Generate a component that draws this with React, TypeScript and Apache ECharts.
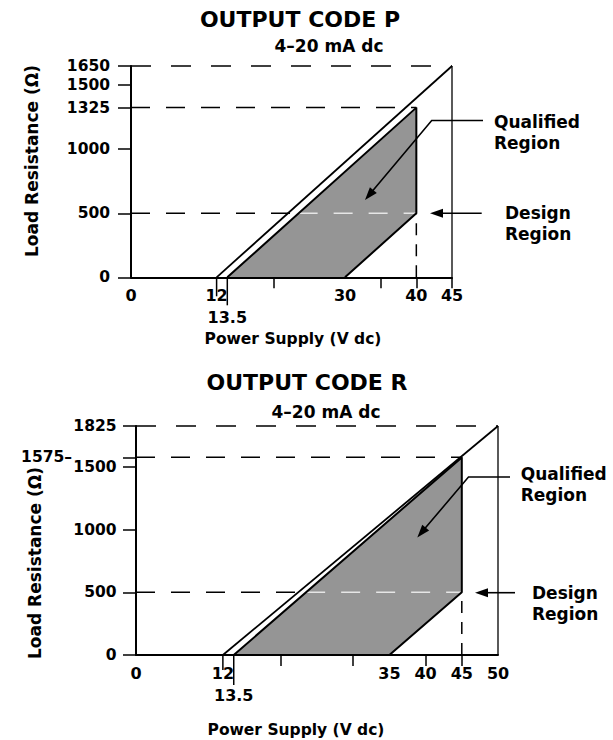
import React, { useEffect, useRef } from "react";
import * as echarts from "echarts";

const FONT = '"DejaVu Sans", "Liberation Sans", Arial, sans-serif';

// ---------- Output code P ----------
const pTitle = "OUTPUT CODE P";
const pSubtitle = "4–20 mA dc";
const pOuterLine = [[12, 0], [45, 1650]];
const pQualifiedRegion = [[13.5, 0], [40, 1325], [40, 500], [30, 0]];
const pYTickValues = [0, 500, 1000, 1325, 1500, 1650];
const pYLeadValues: number[] = [];
const pXLabelValues = [0, 12, 13.5, 30, 40, 45];
const pXTickValues = [20, 35, 40, 45];

// ---------- Output code R ----------
const rTitle = "OUTPUT CODE R";
const rSubtitle = "4–20 mA dc";
const rOuterLine = [[12, 0], [50, 1825]];
const rQualifiedRegion = [[13.5, 0], [45, 1575], [45, 500], [35, 0]];
const rYTickValues = [0, 500, 1000, 1500, 1575, 1825];
const rYLeadValues = [1575];
const rXLabelValues = [0, 12, 13.5, 35, 40, 45, 50];
const rXTickValues = [20, 30, 40, 45];

const yAxisName = "Load Resistance (Ω)";
const xAxisName = "Power Supply (V dc)";
const qualifiedLabel = "Qualified\nRegion";
const designLabel = "Design\nRegion";

const charts = [
  {
    title: pTitle, subtitle: pSubtitle, outer: pOuterLine, region: pQualifiedRegion,
    yTicks: pYTickValues, yLead: pYLeadValues, xLabels: pXLabelValues, xTicks: pXTickValues,
  },
  {
    title: rTitle, subtitle: rSubtitle, outer: rOuterLine, region: rQualifiedRegion,
    yTicks: rYTickValues, yLead: rYLeadValues, xLabels: rXLabelValues, xTicks: rXTickValues,
  },
];

const layouts = [
  {
    grid: { left: 131, top: 66, width: 321, height: 211.3 },
    labelMargin: 21, title: [300, 19], sub: [329, 46], yName: [32, 161], xName: [293, 339],
    qual: [494, 111.2], design: [505, 202.8],
    qualArrow: [[483, 120.5], [431.7, 120.5], [365, 200]],
    designArrow: [[481.7, 213.3], [430, 213.3]],
    longTicks: [19, 28],
  },
  {
    grid: { left: 136, top: 426, width: 362, height: 229 },
    labelMargin: 19.5, title: [307, 382], sub: [326, 412], yName: [35, 563], xName: [296, 730],
    qual: [520.7, 463.5], design: [532, 582.2],
    qualArrow: [[510, 477], [468.5, 477], [417.3, 537.5]],
    designArrow: [[515, 592.7], [475, 592.7]],
    longTicks: [15, 30],
  },
];

function txt(text: string, x: number, y: number, size: number, o: any = {}) {
  const align = o.align || "center";
  const va = o.va || "middle";
  return {
    type: "text", x, y, z: 20, silent: true, rotation: o.rot || 0,
    style: {
      text, fill: "#000", fontSize: size, fontWeight: "bold", fontFamily: FONT,
      align, verticalAlign: va, textAlign: align, textVerticalAlign: va,
      ...(o.lh ? { lineHeight: o.lh } : {}),
    },
  };
}

function arrow(pts: number[][], head = 13, half = 4.5) {
  const n = pts.length;
  const [tx, ty] = pts[n - 1];
  const [px, py] = pts[n - 2];
  const dx = tx - px, dy = ty - py;
  const L = Math.hypot(dx, dy);
  const ux = dx / L, uy = dy / L;
  const bx = tx - ux * head, by = ty - uy * head;
  const shaft = pts.slice(0, n - 1).concat([[bx + ux * 2, by + uy * 2]]);
  return [
    { type: "polyline", z: 20, silent: true, shape: { points: shaft }, style: { stroke: "#000", lineWidth: 1.6, fill: "none" } },
    {
      type: "polygon", z: 20, silent: true,
      shape: { points: [[tx, ty], [bx - uy * half, by + ux * half], [bx + uy * half, by - ux * half]] },
      style: { fill: "#000" },
    },
  ];
}

function buildOption() {
  const grid: any[] = [];
  const xAxis: any[] = [];
  const yAxis: any[] = [];
  const series: any[] = [];
  const graphic: any[] = [];
  const labelStyle = { color: "#000", fontWeight: "bold", fontFamily: FONT };

  charts.forEach((c, i) => {
    const lay = layouts[i];
    const xMax = c.outer[1][0], yMax = c.outer[1][1];
    const outerStart = c.outer[0][0];
    const innerStart = c.region[0][0];
    const vMax = c.region[1][0], rMax = c.region[1][1], design = c.region[2][1];
    const xAtDesign = innerStart + (design / rMax) * (vMax - innerStart);
    const perPx = yMax / lay.grid.height;

    grid.push({ ...lay.grid, containLabel: false });
    xAxis.push({
      gridIndex: i, type: "value", min: 0, max: xMax, z: 10,
      axisLine: { show: true, onZero: false, lineStyle: { color: "#000", width: 2 } },
      axisTick: { show: true, inside: false, length: 11, customValues: c.xTicks, lineStyle: { color: "#000", width: 1.5 } },
      axisLabel: {
        show: true, customValues: c.xLabels, margin: 7.5, fontSize: 16, lineHeight: 22, ...labelStyle,
        showMinLabel: true, showMaxLabel: true,
        formatter: (v: number) => (Number.isInteger(v) ? String(v) : "\n" + v),
      },
      splitLine: { show: false },
    });
    yAxis.push({
      gridIndex: i, type: "value", min: 0, max: yMax, z: 10,
      axisLine: { show: true, onZero: false, lineStyle: { color: "#000", width: 2 } },
      axisTick: { show: true, inside: false, length: 13, customValues: c.yTicks, lineStyle: { color: "#000", width: 1.5 } },
      axisLabel: {
        show: true, customValues: c.yTicks, margin: lay.labelMargin, fontSize: 15.5, ...labelStyle,
        showMinLabel: true, showMaxLabel: true,
        formatter: (v: number) => (c.yLead.includes(v) ? `{lead|${v}–}` : String(v)),
        rich: {
          lead: { fontSize: 15.5, fontWeight: "bold", fontFamily: FONT, color: "#000", padding: [0, 44.5, 0, 0] },
        },
      },
      splitLine: { show: false },
    });

    const base = { type: "line", xAxisIndex: i, yAxisIndex: i, symbol: "none", silent: true, clip: false };
    const line = (data: number[][], z: number, width: number, type: any = "solid", color = "#000") => ({
      ...base, data, z, lineStyle: { color, width, type },
    });

    series.push(line([[0, yMax], [xMax, yMax]], 1, 1.5, [20, 20]));
    series.push(line([[0, rMax], [vMax, rMax]], 1, 1.5, [19, 16]));
    series.push(line([[0, design], [vMax, design]], 1, 1.5, [19, 16]));
    series.push(line([[vMax, 0], [vMax, design]], 1, 1.5, [12, 9]));
    series.push({
      type: "custom", xAxisIndex: i, yAxisIndex: i, data: c.region, silent: true, clip: false, z: 2,
      encode: { x: 0, y: 1 },
      renderItem: (params: any, api: any) =>
        params.dataIndex === 0
          ? { type: "polygon", shape: { points: c.region.map((p) => api.coord(p)) }, style: { fill: "#959595" } }
          : { type: "group", children: [] },
    });
    series.push(line([[xAtDesign, design], [vMax, design]], 3, 1.6, [19, 16], "#e6e6e6"));
    series.push(line(c.region, 4, 2));
    series.push(line(c.outer, 4, 1.8));
    series.push(line([[xMax, 0], [xMax, yMax]], 4, 1.3));
    series.push(line([[outerStart, 0], [outerStart, -lay.longTicks[0] * perPx]], 4, 1.5));
    series.push(line([[innerStart, 0], [innerStart, -lay.longTicks[1] * perPx]], 4, 1.5));

    graphic.push(txt(c.title, lay.title[0], lay.title[1], 22));
    graphic.push(txt(c.subtitle, lay.sub[0], lay.sub[1], 17));
    graphic.push(txt(yAxisName, lay.yName[0], lay.yName[1], 17, { rot: Math.PI / 2 }));
    graphic.push(txt(xAxisName, lay.xName[0], lay.xName[1], 15.5));
    graphic.push(txt(qualifiedLabel, lay.qual[0], lay.qual[1], 17, { align: "left", va: "top", lh: 21 }));
    graphic.push(txt(designLabel, lay.design[0], lay.design[1], 17, { align: "left", va: "top", lh: 21 }));
    graphic.push(...arrow(lay.qualArrow));
    graphic.push(...arrow(lay.designArrow));
  });

  return {
    animation: false,
    backgroundColor: "#fff",
    grid, xAxis, yAxis, series, graphic,
  };
}

export default function App() {
  const ref = useRef<HTMLDivElement>(null);
  useEffect(() => {
    const chart = echarts.init(ref.current!, null, { renderer: "svg" });
    chart.setOption(buildOption() as any);
    return () => chart.dispose();
  }, []);
  return (
    <div
      ref={ref}
      style={{ position: "fixed", left: 0, top: 0, width: 613, height: 740, background: "#fff" }}
    />
  );
}
